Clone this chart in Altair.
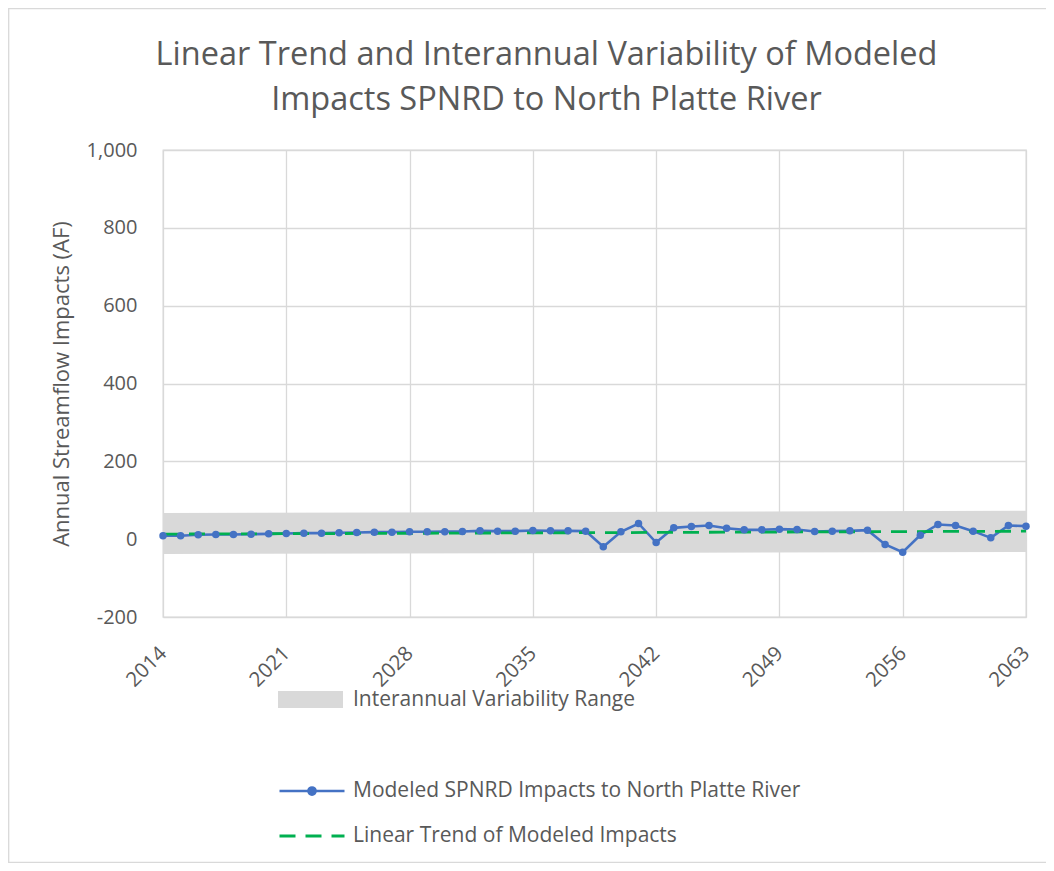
import altair as alt
import pandas as pd

# ---------------- data ----------------
years = list(range(2014, 2064))
impacts = [
    8.6, 8.6, 11.3, 12.0, 12.0, 12.9, 13.7, 14.6, 15.4, 15.4,
    16.3, 17.1, 18.0, 18.0, 18.9, 18.9, 19.3, 19.7, 21.4, 20.6,
    20.6, 22.3, 21.4, 21.4, 20.6, -19.7, 18.9, 40.3, -8.6, 29.1,
    32.6, 35.1, 28.0, 24.0, 24.0, 25.7, 24.8, 19.7, 20.6, 21.4,
    23.1, -13.7, -33.4, 10.3, 37.7, 35.1, 20.6, 3.4, 35.1, 33.4,
]
trend_years = [2014, 2063]
trend_values = [13.0, 20.5]
band_lower = [-38.0, -33.0]
band_upper = [67.0, 73.0]

x_ticks = [2014, 2021, 2028, 2035, 2042, 2049, 2056, 2063]
y_ticks = [-200, 0, 200, 400, 600, 800, 1000]

title_lines = ["Linear Trend and Interannual Variability of Modeled",
               "Impacts SPNRD to North Platte River"]
y_title = "Annual Streamflow Impacts (AF)"
band_label = "Interannual Variability Range"
line_label = "Modeled SPNRD Impacts to North Platte River"
trend_label = "Linear Trend of Modeled Impacts"

# ---------------- style ----------------
FONT = "Open Sans"
TXT = "#595959"
GRID = "#d9d9d9"
BLUE = "#4472C4"
GREEN = "#00B050"
W, H = 863, 467
PAD = {"left": 155, "top": 142, "right": 20, "bottom": 246}

impacts_df = pd.DataFrame({"year": years, "value": impacts, "series": line_label})
band_df = pd.DataFrame({"year": trend_years, "lower": band_lower,
                        "upper": band_upper, "series": band_label})
trend_df = pd.DataFrame({"year": trend_years, "value": trend_values, "series": trend_label})

x_enc = alt.X(
    "year:Q",
    scale=alt.Scale(domain=[2014, 2063], nice=False, zero=False),
    axis=alt.Axis(values=x_ticks, format="d", labelAngle=315, labelAlign="right",
                  labelBaseline="middle", labelFontSize=20.5, labelColor=TXT,
                  labelFont=FONT, labelPadding=33, ticks=False, domain=False,
                  grid=True, gridColor=GRID, gridWidth=1.3, title=None),
)
y_scale = alt.Scale(domain=[-200, 1000], nice=False, zero=False)
y_axis = alt.Axis(values=y_ticks,
                  labelExpr="datum.value < 0 ? '-' + format(-datum.value, ',.0f') : format(datum.value, ',.0f')",
                  labelFontSize=20, labelColor=TXT,
                  labelFont=FONT, labelPadding=26, ticks=False, domain=False,
                  grid=True, gridColor=GRID, gridWidth=1.3, title=y_title,
                  titleFont=FONT, titleFontSize=22, titleFontWeight="normal",
                  titleColor=TXT, titlePadding=13)

common_leg = dict(orient="none", title=None, padding=0, labelFont=FONT,
                  labelFontSize=21, labelColor=TXT, labelLimit=800,
                  legendX=115)

band = alt.Chart(band_df).mark_area(opacity=1).encode(
    x=x_enc,
    y=alt.Y("lower:Q", scale=y_scale, axis=y_axis),
    y2="upper:Q",
    fill=alt.Fill("series:N",
                  scale=alt.Scale(domain=[band_label], range=["#d9d9d9"]),
                  legend=alt.Legend(legendY=517, labelOffset=10,
                                    symbolType="M-1,-0.26L1,-0.26L1,0.26L-1,0.26Z",
                                    symbolSize=4225, symbolStrokeWidth=0,
                                    symbolOpacity=1, **common_leg)),
)

color_enc = alt.Color(
    "series:N",
    scale=alt.Scale(domain=[line_label], range=[BLUE]),
    legend=alt.Legend(legendY=607, labelOffset=7,
                      symbolType="M-1,0L1,0M0.11,0A0.11,0.11,0,1,1,-0.11,0A0.11,0.11,0,1,1,0.11,0",
                      symbolSize=4225, symbolStrokeWidth=2.6,
                      symbolFillColor=BLUE, symbolStrokeColor=BLUE, **common_leg),
)

line = alt.Chart(impacts_df).mark_line(strokeWidth=2.6).encode(
    x=x_enc, y=alt.Y("value:Q", scale=y_scale, axis=y_axis), color=color_enc)

trend = alt.Chart(trend_df).mark_line(color=GREEN, strokeWidth=2.8).encode(
    x=x_enc,
    y=alt.Y("value:Q", scale=y_scale, axis=y_axis),
    strokeDash=alt.StrokeDash(
        "series:N",
        scale=alt.Scale(domain=[trend_label], range=[[16, 10]]),
        legend=alt.Legend(legendY=652, labelOffset=7, symbolType="stroke",
                          symbolSize=4225, symbolStrokeColor=GREEN,
                          symbolStrokeWidth=2.8, **common_leg)),
)

points = alt.Chart(impacts_df).mark_circle(size=56, opacity=1).encode(
    x=x_enc, y=alt.Y("value:Q", scale=y_scale, axis=y_axis), color=color_enc)

frame = alt.Chart(pd.DataFrame({"a": [0]})).mark_rect(
    fill="transparent", stroke=GRID, strokeWidth=1.3).encode(
    x=alt.value(-PAD["left"] + 0.7), x2=alt.value(W + PAD["right"] + 20),
    y=alt.value(-PAD["top"] + 0.7), y2=alt.value(H + PAD["bottom"] - 0.7))

chart = alt.layer(frame, band, line, trend, points).properties(
    width=W, height=H,
    autosize=alt.AutoSizeParams(type="none"),
    padding=PAD,
    title=alt.Title(text=title_lines, fontSize=32.5, font=FONT, color=TXT,
                    fontWeight="normal", anchor="middle", frame="group",
                    dx=-48, dy=108, offset=0, lineHeight=45),
).configure_view(stroke=GRID, strokeWidth=1.3)

chart.save("out.html", embed_options={"renderer": "svg", "actions": False})
